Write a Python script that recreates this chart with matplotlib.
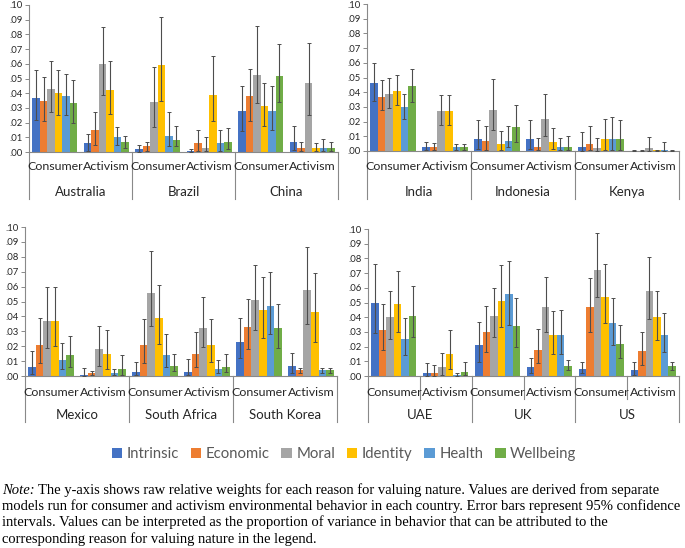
import numpy as np
import matplotlib
matplotlib.use("Agg")
import matplotlib.pyplot as plt
from matplotlib.patches import Patch

reasons = ["Intrinsic", "Economic", "Moral", "Identity", "Health", "Wellbeing"]
colors = ["#4472C4", "#ED7D31", "#A5A5A5", "#FFC000", "#5B9BD5", "#70AD47"]
behaviors = ["Consumer", "Activism"]
yticks = [0.00, 0.01, 0.02, 0.03, 0.04, 0.05, 0.06, 0.07, 0.08, 0.09, 0.10]
ytick_labels = [".00", ".01", ".02", ".03", ".04", ".05", ".06", ".07", ".08", ".09", ".10"]

panels = [["Australia", "Brazil", "China"],
          ["India", "Indonesia", "Kenya"],
          ["Mexico", "South Africa", "South Korea"],
          ["UAE", "UK", "US"]]

# relative weights: [consumer, activism] x 6 reasons
values = {
    "Australia":   [[.037, .035, .043, .040, .038, .033], [.006, .015, .060, .042, .010, .007]],
    "Brazil":      [[.002, .004, .034, .059, .011, .008], [.001, .006, .003, .039, .006, .007]],
    "China":       [[.028, .038, .0525, .031, .028, .052], [.007, .003, .047, .003, .003, .003]],
    "India":       [[.046, .037, .039, .041, .030, .044], [.003, .003, .027, .027, .003, .003]],
    "Indonesia":   [[.008, .007, .028, .005, .007, .016], [.008, .003, .022, .006, .003, .003]],
    "Kenya":       [[.003, .005, .002, .008, .008, .008], [.0003, .0003, .002, .0005, .001, .0003]],
    "Mexico":      [[.006, .021, .037, .037, .011, .014], [.001, .002, .018, .015, .002, .005]],
    "South Africa": [[.003, .021, .056, .039, .014, .007], [.003, .015, .032, .021, .005, .006]],
    "South Korea": [[.023, .033, .051, .044, .047, .032], [.007, .004, .058, .043, .004, .004]],
    "UAE":         [[.050, .031, .040, .049, .025, .041], [.002, .002, .006, .015, .001, .003]],
    "UK":          [[.021, .030, .041, .051, .056, .034], [.006, .018, .047, .028, .028, .007]],
    "US":          [[.005, .047, .072, .054, .036, .022], [.004, .017, .058, .040, .028, .007]],
}
# 95% CI lower bounds
lower = {
    "Australia":   [[.022, .021, .027, .025, .025, .020], [.001, .005, .039, .026, .005, .003]],
    "Brazil":      [[.000, .001, .017, .035, .004, .004], [.000, .001, .001, .021, .001, .002]],
    "China":       [[.0145, .021, .033, .018, .015, .034], [.0016, .0005, .025, .001, .0005, .001]],
    "India":       [[.034, .028, .0295, .031, .022, .0336], [.001, .0007, .018, .018, .001, .001]],
    "Indonesia":   [[.0016, .001, .014, .0005, .0025, .006], [.0015, .0006, .010, .0015, .001, .001]],
    "Kenya":       [[.000, .001, .000, .001, .001, .001], [.000, .000, .000, .000, .000, .000]],
    "Mexico":      [[.0016, .009, .019, .020, .0045, .006], [.000, .0005, .0067, .0047, .0007, .001]],
    "South Africa": [[.001, .009, .0335, .0216, .0063, .0036], [.001, .006, .0196, .0092, .002, .0025]],
    "South Korea": [[.012, .0184, .0308, .0252, .0283, .0187], [.002, .0018, .0348, .0225, .002, .002]],
    "UAE":         [[.029, .0175, .025, .030, .014, .0265], [.000, .000, .001, .0045, .000, .001]],
    "UK":          [[.0095, .016, .0268, .0336, .035, .020], [.002, .0086, .030, .015, .015, .004]],
    "US":          [[.002, .030, .054, .036, .021, .012], [.001, .0075, .0385, .0247, .016, .0043]],
}
# 95% CI upper bounds
upper = {
    "Australia":   [[.056, .051, .062, .056, .053, .049], [.012, .027, .085, .062, .017, .011]],
    "Brazil":      [[.005, .007, .058, .092, .027, .018], [.002, .015, .010, .065, .015, .016]],
    "China":       [[.045, .0566, .086, .047, .045, .0735], [.0176, .007, .074, .006, .009, .007]],
    "India":       [[.060, .048, .050, .052, .039, .056], [.006, .0055, .038, .038, .005, .005]],
    "Indonesia":   [[.0208, .0167, .049, .0135, .0167, .031], [.021, .009, .039, .0157, .009, .010]],
    "Kenya":       [[.013, .0167, .0086, .022, .023, .021], [.0005, .0005, .0095, .001, .006, .0005]],
    "Mexico":      [[.0166, .039, .060, .060, .022, .027], [.0056, .0036, .0337, .0306, .0047, .014]],
    "South Africa": [[.0092, .0384, .084, .061, .028, .015], [.0117, .0294, .0528, .038, .011, .0146]],
    "South Korea": [[.0387, .0517, .0744, .0663, .0697, .048], [.0157, .0054, .0865, .069, .0056, .0056]],
    "UAE":         [[.076, .0488, .0576, .0717, .0395, .0615], [.0086, .0077, .0154, .0313, .002, .0093]],
    "UK":          [[.037, .0476, .060, .0753, .078, .053], [.012, .032, .0676, .044, .045, .0107]],
    "US":          [[.0095, .067, .097, .076, .053, .035], [.0097, .030, .0807, .058, .043, .0097]],
}

W, H = 685, 548
# panel boxes in pixels: (left, right, y_of_.10, y_of_.00, label_y, country_y, line_bottom)
boxes = [(29, 338, 5, 152, 167, 192, 199),
         (367, 679, 4, 151, 167, 192, 199),
         (25, 337, 227, 376, 392, 415, 422),
         (368, 679, 229, 376, 392, 415, 422)]

fig = plt.figure(figsize=(W / 100, H / 100), dpi=100)
axis_grey = "#898989"
font = ["Lato", "DejaVu Sans"]
bw = 0.145
fs_cat = 8.9

for pi, (countries, box) in enumerate(zip(panels, boxes)):
    l, r, yt, yb, ly, cy, lb = box
    ax = fig.add_axes([l / W, 1 - yb / H, (r - l) / W, (yb - yt) / H])
    ph = yb - yt
    for ci, country in enumerate(countries):
        for bi in range(2):
            center = 2 * ci + bi + 0.5
            v = np.array(values[country][bi])
            lo = np.array(lower[country][bi])
            hi = np.array(upper[country][bi])
            xs = center + (np.arange(6) - 2.5) * bw
            ax.bar(xs, v, width=bw, color=colors, linewidth=0, zorder=2)
            ax.errorbar(xs, v, yerr=[np.clip(v - lo, 0, None), np.clip(hi - v, 0, None)],
                        fmt="none", ecolor="#4d4d4d",
                        elinewidth=0.8, capsize=1.3, capthick=0.7, zorder=3)
            ax.text(center, -(ly - yb) / ph, behaviors[bi], transform=ax.get_xaxis_transform(),
                    ha="center", va="center", fontsize=fs_cat, family=font, color="#262626")
            if pi == 3 and bi == 1:
                ax.plot([2 * ci + 1, 2 * ci + 1], [0, -(399 - yb) / ph], color=axis_grey, lw=0.8,
                        transform=ax.get_xaxis_transform(), clip_on=False)
        ax.text(2 * ci + 1, -(cy - yb) / ph, country, transform=ax.get_xaxis_transform(),
                ha="center", va="center", fontsize=fs_cat + 0.6, family=font, color="#262626")
    for sx in [0, 2, 4, 6]:
        ax.plot([sx, sx], [0, -(lb - yb) / ph], color=axis_grey, lw=0.8,
                transform=ax.get_xaxis_transform(), clip_on=False)
    ax.set_xlim(0, 6)
    ax.set_ylim(0, 0.10)
    ax.set_yticks(yticks)
    ax.set_yticklabels(ytick_labels, fontsize=6.8, family=font, color="#262626")
    ax.set_xticks([])
    for s in ["top", "right"]:
        ax.spines[s].set_visible(False)
    for s in ["left", "bottom"]:
        ax.spines[s].set_color(axis_grey)
        ax.spines[s].set_linewidth(0.8)
    ax.tick_params(axis="y", length=3, width=0.7, color=axis_grey, pad=1.5)
    ax.patch.set_alpha(0)

handles = [Patch(facecolor=c, edgecolor="none") for c in colors]
leg = fig.legend(handles, reasons, loc="center", bbox_to_anchor=(344 / W, 1 - 454 / H), ncol=6,
                 frameon=False, handlelength=0.7, handleheight=0.7, handletextpad=0.3,
                 columnspacing=0.8, prop={"family": font, "size": 10.7})
for t in leg.get_texts():
    t.set_color("#595959")

note_lines = [
    "The y-axis shows raw relative weights for each reason for valuing nature. Values are derived from separate",
    "models run for consumer and activism environmental behavior in each country. Error bars represent 95% confidence",
    "intervals. Values can be interpreted as the proportion of variance in behavior that can be attributed to the",
    "corresponding reason for valuing nature in the legend.",
]
serif = "Liberation Serif"
fs_note = 10.5
line_y = [490, 506, 522, 539]
t0 = fig.text(2 / W, 1 - line_y[0] / H, "Note:", fontsize=fs_note, family=serif, style="italic",
              va="center", ha="left")
fig.canvas.draw()
bb = t0.get_window_extent()
fig.text((bb.x1 + 3) / W, 1 - line_y[0] / H, note_lines[0], fontsize=fs_note, family=serif,
         va="center", ha="left")
for yy, line in zip(line_y[1:], note_lines[1:]):
    fig.text(2 / W, 1 - yy / H, line, fontsize=fs_note, family=serif, va="center", ha="left")

fig.savefig("out.png", dpi=100)
